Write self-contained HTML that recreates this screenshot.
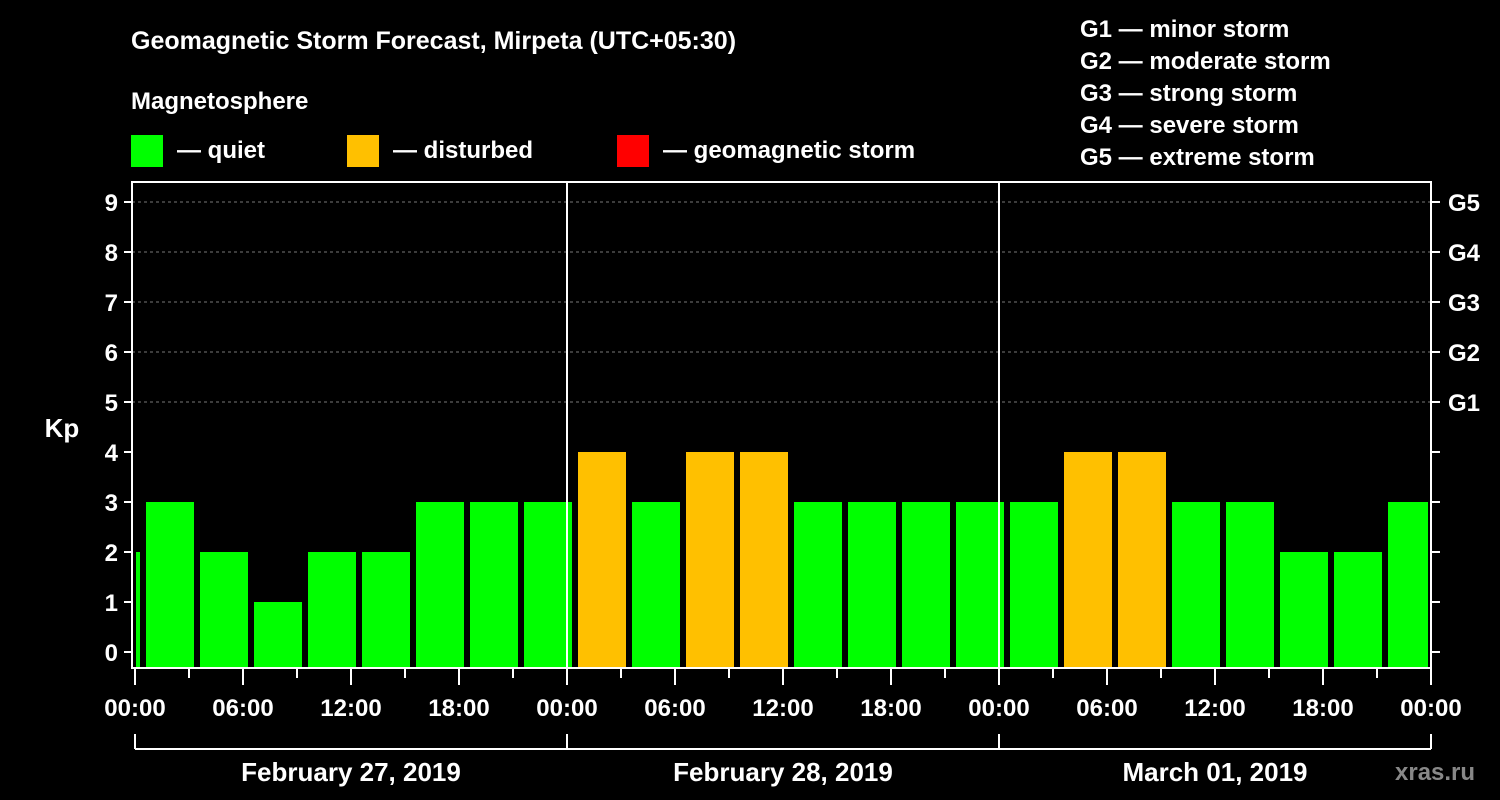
<!DOCTYPE html>
<html><head><meta charset="utf-8"><style>
body{margin:0;background:#000;width:1500px;height:800px;overflow:hidden}
svg{display:block;font-family:"Liberation Sans",Arial,sans-serif;font-weight:bold}
</style></head><body>
<svg id="c" width="1500" height="800" viewBox="0 0 1500 800">
<rect width="1500" height="800" fill="#000"/>
<text x="131" y="49" fill="#fff" font-size="25">Geomagnetic Storm Forecast, Mirpeta (UTC+05:30)</text>
<text x="131" y="109" fill="#fff" font-size="24">Magnetosphere</text>
<rect x="131" y="135" width="32" height="32" fill="#00ff00"/>
<text x="177" y="158" fill="#fff" font-size="24">— quiet</text>
<rect x="347" y="135" width="32" height="32" fill="#ffc000"/>
<text x="393" y="158" fill="#fff" font-size="24">— disturbed</text>
<rect x="617" y="135" width="32" height="32" fill="#ff0000"/>
<text x="663" y="158" fill="#fff" font-size="24">— geomagnetic storm</text>
<g fill="#fff" font-size="24">
<text x="1080" y="37">G1 — minor storm</text>
<text x="1080" y="69">G2 — moderate storm</text>
<text x="1080" y="101">G3 — strong storm</text>
<text x="1080" y="133">G4 — severe storm</text>
<text x="1080" y="165">G5 — extreme storm</text>
</g>
<text x="62" y="437" fill="#fff" font-size="26" text-anchor="middle">Kp</text>
<text x="1395" y="780" fill="#888" font-size="24">xras.ru</text>
<g id="g"></g>
</svg>
<script>
const kpValues=[2,3,2,1,2,2,3,3,3,4,3,4,4,3,3,3,3,3,4,4,3,3,2,2,3];
const yTicks=[0,1,2,3,4,5,6,7,8,9];
const gLabels=["G1","G2","G3","G4","G5"];
const xLabels=["00:00","06:00","12:00","18:00","00:00","06:00","12:00","18:00","00:00","06:00","12:00","18:00","00:00"];
const dates=["February 27, 2019","February 28, 2019","March 01, 2019"];
const NS="http://www.w3.org/2000/svg",g=document.getElementById('g');
const X0=135,HPX=18,Y0=652,KP=50,LEFT=132,RIGHT=1431,TOP=182,BOT=668;
const x=h=>X0+h*HPX, y=v=>Y0-v*KP;
function el(t,a,txt){const e=document.createElementNS(NS,t);for(const k in a)e.setAttribute(k,a[k]);if(txt!=null)e.textContent=txt;g.appendChild(e);return e;}
// grid
yTicks.forEach(v=>{if(v>=5){const l=el('line',{x1:LEFT,x2:RIGHT,y1:y(v),y2:y(v),stroke:'#777','stroke-dasharray':'3,3'});

}});
// bars: first block starts at -2.5h (offset)
kpValues.forEach((v,i)=>{let s=x(-2.5+3*i)+2,e=x(0.5+3*i)-4;s=Math.max(s,X0+1);e=Math.min(e,RIGHT-3);
const r=el('rect',{x:s,y:y(v),width:e-s,height:BOT-y(v),fill:v>=5?'#ff0000':v>=4?'#ffc000':'#00ff00'});

});
// frame
const f=el('rect',{x:LEFT,y:TOP,width:RIGHT-LEFT,height:BOT-TOP,fill:'none',stroke:'#fff','stroke-width':2});


[1,2].forEach(d=>{const l=el('line',{x1:x(24*d),x2:x(24*d),y1:TOP,y2:BOT,stroke:'#fff','stroke-width':2});

});
yTicks.forEach(v=>{el('line',{x1:124,x2:LEFT,y1:y(v),y2:y(v),stroke:'#fff','stroke-width':2});
el('line',{x1:RIGHT,x2:1440,y1:y(v),y2:y(v),stroke:'#fff','stroke-width':2});
const t=el('text',{x:118,y:y(v)+9,fill:'#fff','font-size':24,'text-anchor':'end'},String(v));

});
gLabels.forEach((s,i)=>{const t=el('text',{x:1448,y:y(5+i)+9,fill:'#fff','font-size':24},s);

});
for(let h=0;h<=72;h+=3){el('line',{x1:x(h),x2:x(h),y1:BOT,y2:h%6?678:685,stroke:'#fff','stroke-width':2});}
xLabels.forEach((s,i)=>{const t=el('text',{x:x(6*i),y:716,fill:'#fff','font-size':24,'text-anchor':'middle'},s);

});
el('line',{x1:x(0),x2:x(72),y1:749,y2:749,stroke:'#fff','stroke-width':2});
[0,1,2,3].forEach(d=>el('line',{x1:x(24*d),x2:x(24*d),y1:734,y2:749,stroke:'#fff','stroke-width':2}));
dates.forEach((s,i)=>{const t=el('text',{x:x(24*i+12),y:781,fill:'#fff','font-size':26,'text-anchor':'middle'},s);

});
</script>
</body></html>
